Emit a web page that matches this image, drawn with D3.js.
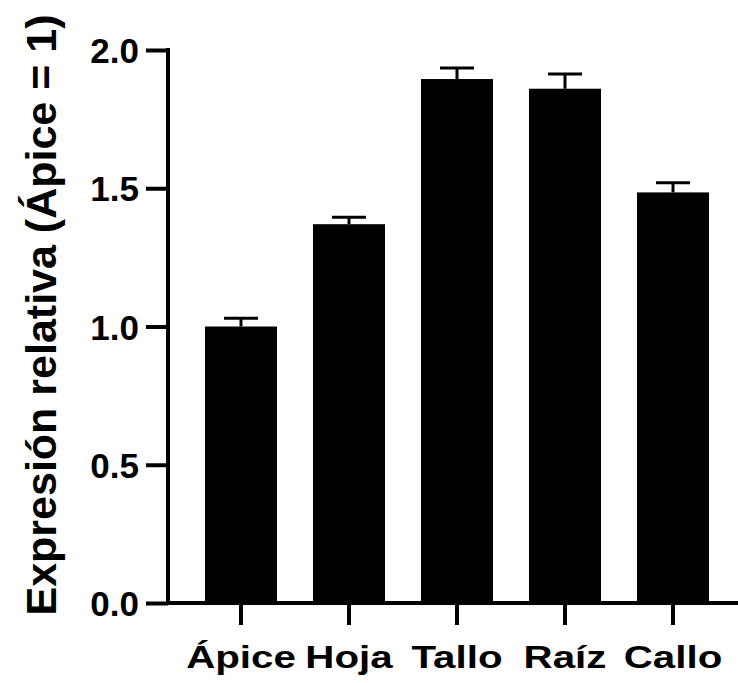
<!DOCTYPE html>
<html>
<head>
<meta charset="utf-8">
<script src="https://cdn.jsdelivr.net/npm/d3@7"></script>
<style>
  body { margin: 0; background: #fff; }
  text { font-family: "Liberation Sans", Arial, sans-serif; font-weight: bold; fill: #000; }
</style>
</head>
<body>
<div id="graf"></div>
<script>
// datos
const tejidos = ['Ápice', 'Hoja', 'Tallo', 'Raíz', 'Callo']
const expresion = [1.0, 1.37, 1.895, 1.86, 1.485]
const error = [0.03, 0.025, 0.04, 0.053, 0.035]
const yTicks = [0.0, 0.5, 1.0, 1.5, 2.0]

const ancho_total = 738
const alto_total = 683

const svg = d3.select('#graf').append('svg')
  .attr('width', ancho_total)
  .attr('height', alto_total)

const y = d3.scaleLinear()
  .domain([0, 2])
  .range([603, 50])

const x = d3.scaleBand()
  .domain(tejidos)
  .range([187, 727])
  .paddingInner(0.333)
  .paddingOuter(0.1665)

// barras
svg.selectAll('rect.bar')
  .data(tejidos)
  .enter().append('rect')
  .attr('class', 'bar')
  .attr('x', d => x(d))
  .attr('width', x.bandwidth())
  .attr('y', (d, i) => y(expresion[i]))
  .attr('height', (d, i) => y(0) - y(expresion[i]))
  .attr('fill', '#000')

// barras de error
const eb = svg.append('g').attr('stroke', '#000').attr('stroke-width', 3)
tejidos.forEach((t, i) => {
  const cx = x(t) + x.bandwidth() / 2
  eb.append('line')
    .attr('x1', cx).attr('x2', cx)
    .attr('y1', y(expresion[i])).attr('y2', y(expresion[i] + error[i]))
  eb.append('line')
    .attr('x1', cx - 17).attr('x2', cx + 17)
    .attr('y1', y(expresion[i] + error[i])).attr('y2', y(expresion[i] + error[i]))
})

// eje Y
const yAxis = d3.axisLeft(y)
  .tickValues(yTicks)
  .tickFormat(d3.format('.1f'))
  .tickSize(22)
  .tickPadding(7)

const gy = svg.append('g')
  .attr('transform', 'translate(168,0)')
  .call(yAxis)
gy.select('.domain').remove()
gy.selectAll('line').attr('stroke-width', 4)
gy.selectAll('text').style('font-size', '35px').attr('dy', '0.36em')
gy.append('line')
  .attr('x1', 0).attr('x2', 0)
  .attr('y1', y(2) - 2).attr('y2', y(0) + 2)
  .attr('stroke', '#000').attr('stroke-width', 4)

// eje X
const xAxis = d3.axisBottom(x)
  .tickSize(22)
  .tickPadding(10)

const gx = svg.append('g')
  .attr('transform', `translate(0,${ y(0) })`)
  .call(xAxis)
gx.select('.domain').remove()
gx.selectAll('line').attr('stroke-width', 4)
gx.selectAll('text')
  .style('font-size', '32px')
  .attr('y', 65)
  .attr('dy', null)
  .attr('transform', 'scale(1.26,1)')
gx.append('line')
  .attr('x1', 166).attr('x2', 738)
  .attr('y1', 0).attr('y2', 0)
  .attr('stroke', '#000').attr('stroke-width', 4)

// titulo eje Y
svg.append('text')
  .attr('transform', 'translate(56,315) rotate(-90)')
  .attr('text-anchor', 'middle')
  .style('font-size', '43px')
  .text('Expresión relativa (Ápice = 1)')
</script>
</body>
</html>
